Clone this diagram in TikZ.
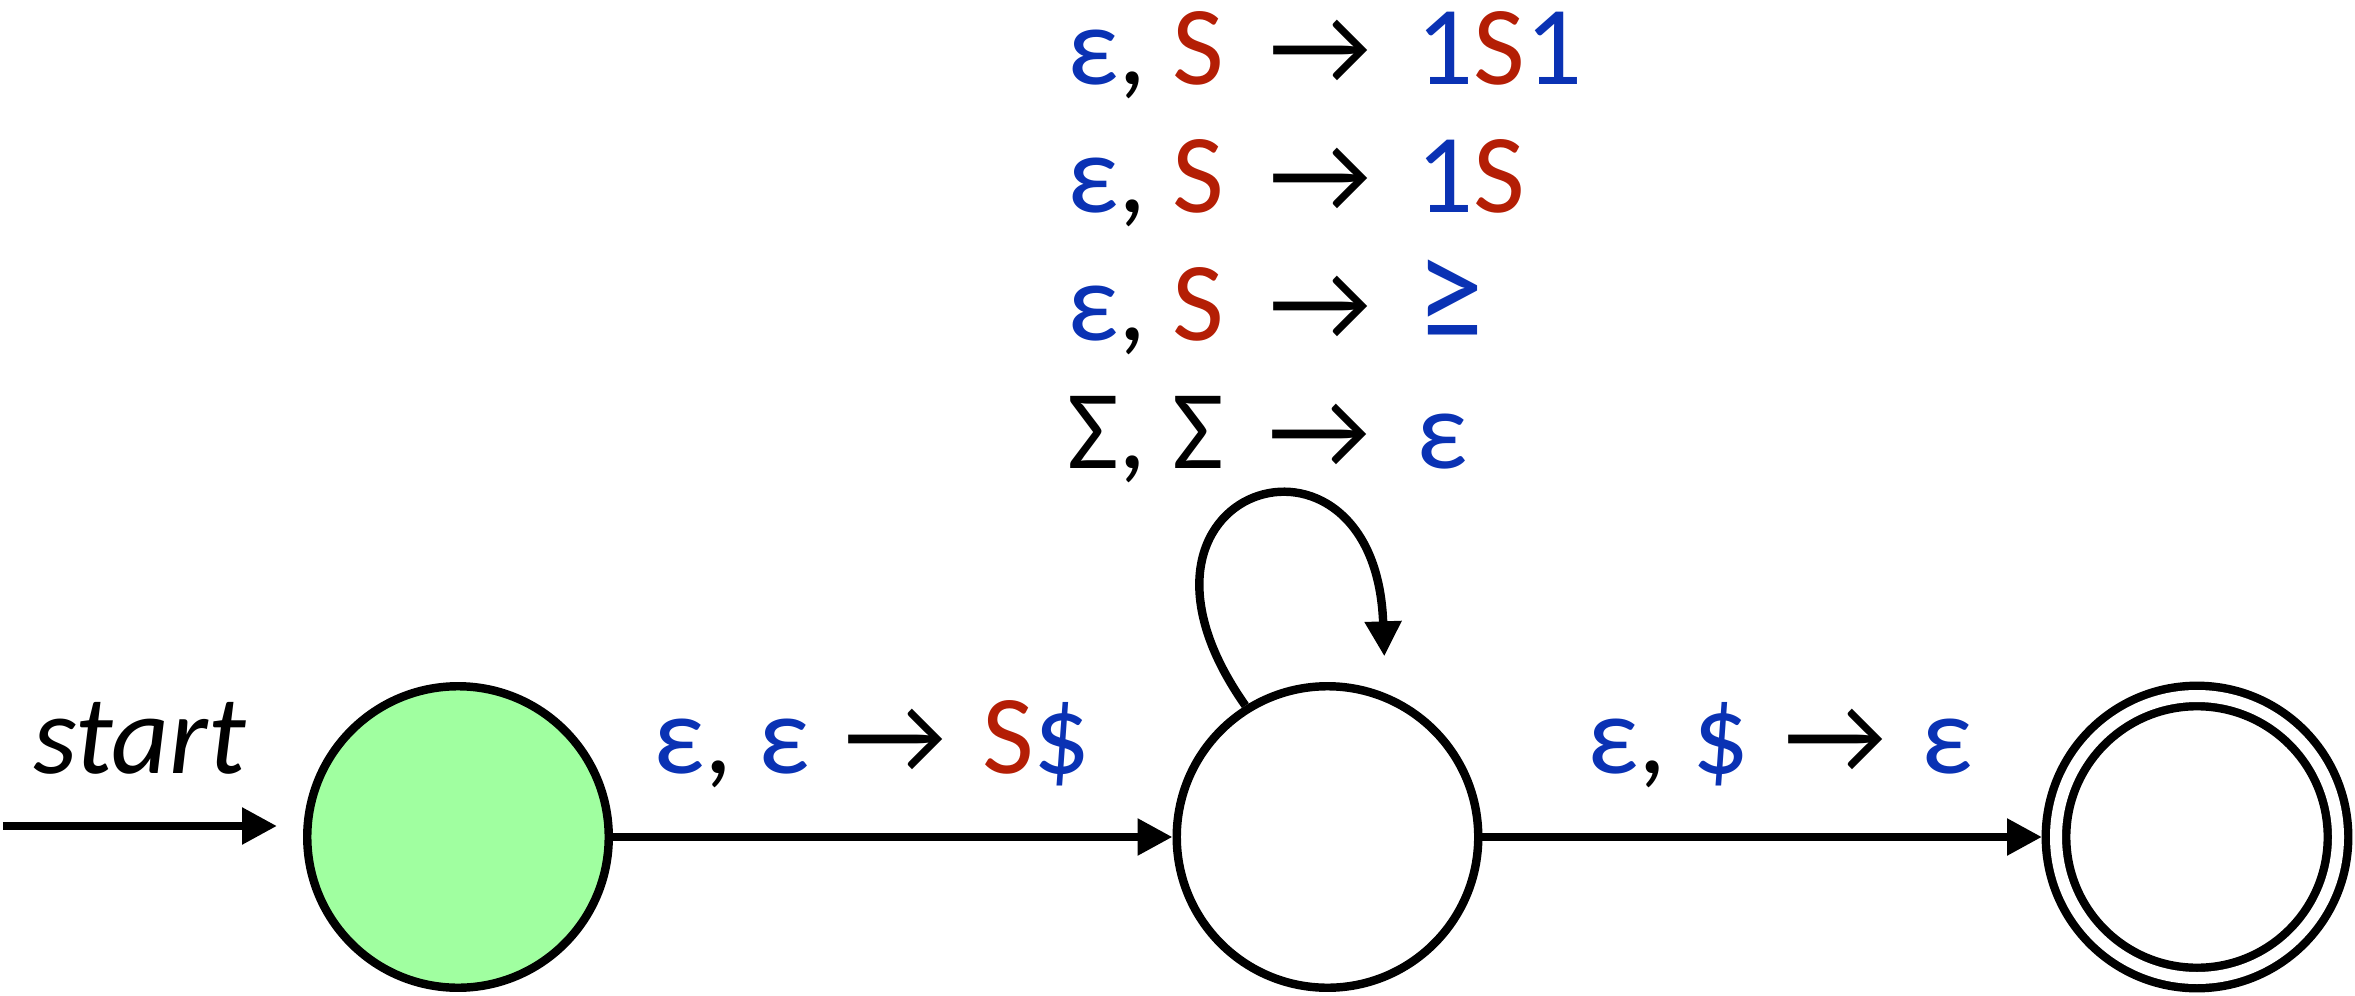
\documentclass[tikz,border=0pt]{standalone}
\usepackage{fontspec}
\setmainfont{Carlito}
\usetikzlibrary{positioning,calc,arrows.meta}
\definecolor{pdaBlue}{HTML}{0A32B4}
\definecolor{pdaRed}{HTML}{B41E05}
\definecolor{pdaGreen}{HTML}{A0FFA0}
\definecolor{pdaLine}{HTML}{000000}
\newcommand{\bl}[1]{\textcolor{pdaBlue}{#1}}
\newcommand{\rd}[1]{\textcolor{pdaRed}{#1}}
\newcommand{\pdaTo}[1][0.1cm]{\hspace{#1}→\hspace{#1}}
\newcommand{\pdaGe}{\scalebox{1.2}[1.3]{≥}}
\tikzset{
  pda arrow/.style={
    -{Triangle[length=0.35cm, width=0.35cm]},
    line width=2.4pt, color=pdaLine,
  },
  state box/.style={
    circle, draw=pdaLine, line width=2.4pt,
    minimum size=3.015cm, inner sep=0pt,
  },
  accept box/.style={
    state box, double, double distance=0.12cm,
    minimum size=2.82cm, outer sep=0.14cm,
  },
  rule label/.style={
    font=\fontsize{32}{38}\selectfont,
    inner sep=0pt, anchor=base,
  },
}

\begin{document}
\begin{tikzpicture}
\useasboundingbox (0,0) rectangle (23.55,9.95);

% --- PARAMETERS ---
\def\xO{4.58}
\def\yO{1.58}
\def\stateGap{8.695}       % spacing between state centers
\def\yTop{9.10}            % baseline of first loop rule
\def\ruleGap{1.277}        % spacing between loop rules
\def\looprules{%
  1/{\bl{ε}, \rd{S}}/{\bl{1}\rd{S}\bl{1}},%
  2/{\bl{ε}, \rd{S}}/{\bl{1}\rd{S}},%
  3/{\bl{ε}, \rd{S}}/{\bl{\pdaGe}},%
  4/{Σ, Σ}/{\bl{ε}}%
}

% --- STATES ---
\node[state box, fill=pdaGreen] (q0) at (\xO, \yO) {};
\node[state box] (q1) at (\xO + \stateGap, \yO) {};
\node[accept box] (q2) at (\xO + 2*\stateGap, \yO) {};

% --- START ARROW ---
\coordinate (init) at (0.03, 1.69);
\draw[pda arrow, shorten >=0.26cm] (init) --
  node[rule label, pos=0.455, yshift=0.53cm] (st) {\itshape start}
  (init -| q0.west);

% --- TRANSITIONS ---
\draw[pda arrow] (q0) --
  node[rule label, pos=0.463, yshift=0.64cm] (e01)
  {\bl{ε}, \bl{ε} \pdaTo{} \rd{S}\bl{\$}} (q1);
\draw[pda arrow] (q1) --
  node[rule label, pos=0.532, yshift=0.64cm] (e12)
  {\bl{ε}, \bl{\$} \pdaTo{} \bl{ε}} (q2);

% --- LOOP ON MIDDLE STATE ---
\draw[pda arrow, shorten >=0.37cm] (q1.122)
  .. controls +(-1.55,2.2) and +(-0.1,2.95) .. (q1.68);

\foreach \ridx/\lhs/\rhs in \looprules {
  \pgfmathsetmacro\ry{\yTop - (\ridx - 1) * \ruleGap}
  \node[rule label] (r\ridx) at (13.20, \ry)
    {\llap{\lhs\ \hspace{0.2cm}}→\rlap{\hspace{0.2cm}\ \rhs}};
}

\end{tikzpicture}
\end{document}
